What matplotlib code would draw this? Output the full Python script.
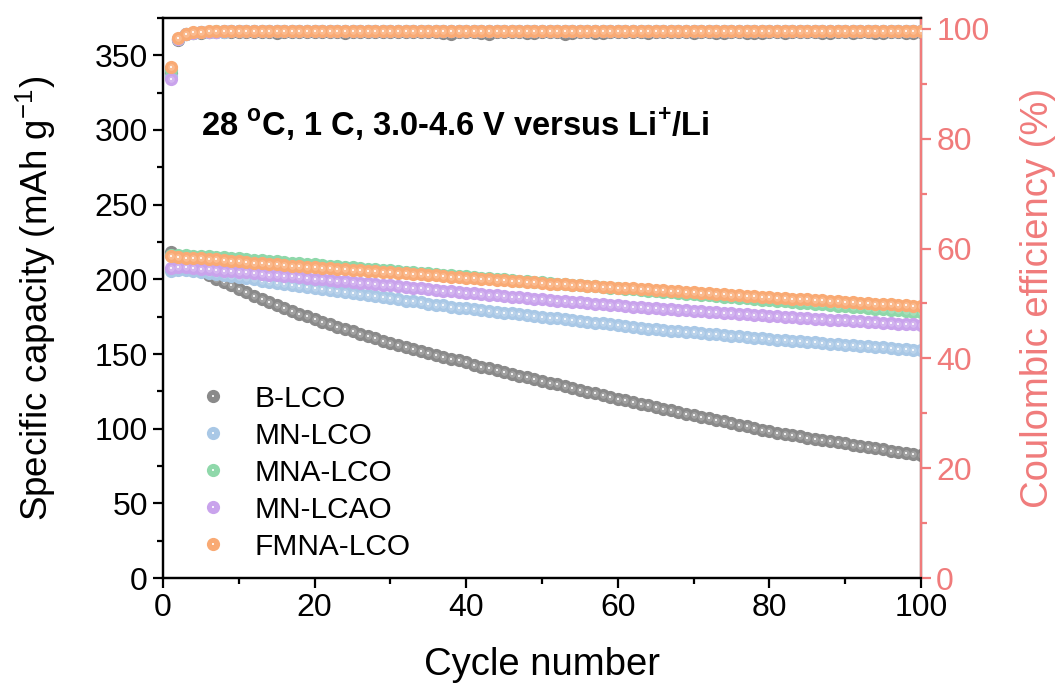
"""Cycling performance at 28 oC / 1 C: discharge capacity and Coulombic efficiency."""

import matplotlib
matplotlib.use("Agg")
import matplotlib.pyplot as plt
import numpy as np

plt.rcParams["font.family"] = ["Liberation Sans", "DejaVu Sans"]
plt.rcParams["mathtext.fontset"] = "custom"
plt.rcParams["mathtext.rm"] = "Liberation Sans"
plt.rcParams["mathtext.bf"] = "Liberation Sans:bold"

cycles = np.arange(1, 101)
samples = ["B-LCO", "MN-LCO", "MNA-LCO", "MN-LCAO", "FMNA-LCO"]
colors = ["#8a8a8a", "#a9c8e6", "#8fd8aa", "#c9a3ec", "#f9aa74"]

cap_b = [
    218.0, 214.0, 211.0, 208.0, 205.5, 203.0, 200.5, 198.0, 196.0, 193.5,
    191.2, 189.0, 186.9, 184.8, 182.8, 180.8, 178.9, 177.0, 175.2, 173.4,
    171.7, 170.0, 168.3, 166.7, 165.1, 163.5, 162.0, 160.5, 159.0, 157.6,
    156.2, 154.8, 153.4, 152.1, 150.8, 149.5, 148.2, 146.9, 145.7, 144.5,
    142.8, 141.6, 140.4, 139.2, 138.0, 136.8, 135.6, 134.4, 133.2, 132.0,
    130.8, 129.6, 128.4, 127.2, 126.0, 124.8, 123.6, 122.4, 121.2, 120.0,
    118.9, 117.8, 116.7, 115.6, 114.5, 113.4, 112.3, 111.2, 110.1, 109.0,
    108.0, 107.0, 106.0, 104.9, 103.8, 102.7, 101.6, 100.5, 99.4, 98.3,
    97.4, 96.5, 95.7, 94.9, 94.1, 93.3, 92.5, 91.7, 90.9, 90.1,
    89.3, 88.5, 87.7, 86.9, 86.1, 85.3, 84.5, 83.7, 82.9, 82.1,
]
cap_mn = [
    205.5, 206.5, 206.0, 205.4, 204.8, 204.1, 203.5, 202.8, 202.2, 201.5,
    200.7, 200.0, 199.2, 198.5, 197.7, 197.0, 196.2, 195.5, 194.7, 194.0,
    193.3, 192.6, 192.0, 191.3, 190.6, 189.9, 189.2, 188.5, 187.9, 187.2,
    186.5, 185.8, 185.2, 184.5, 183.8, 183.1, 182.5, 181.8, 181.1, 180.5,
    179.9, 179.4, 178.8, 178.3, 177.7, 177.2, 176.6, 176.1, 175.5, 175.0,
    174.4, 173.9, 173.3, 172.7, 172.2, 171.6, 171.0, 170.5, 169.9, 169.3,
    168.7, 168.2, 167.6, 167.0, 166.5, 166.1, 165.6, 165.2, 164.8, 164.4,
    163.9, 163.5, 163.1, 162.6, 162.2, 161.8, 161.4, 160.9, 160.5, 160.0,
    159.6, 159.3, 158.9, 158.5, 158.1, 157.8, 157.4, 157.0, 156.6, 156.3,
    155.9, 155.5, 155.1, 154.8, 154.4, 154.0, 153.6, 153.3, 152.9, 152.5,
]
cap_mna = [
    216.0, 216.5, 216.2, 215.9, 215.6, 215.3, 215.0, 214.7, 214.4, 214.0,
    213.6, 213.2, 212.8, 212.4, 212.0, 211.6, 211.2, 210.8, 210.4, 210.0,
    209.6, 209.2, 208.8, 208.4, 208.0, 207.6, 207.2, 206.8, 206.4, 206.0,
    205.5, 205.1, 204.7, 204.3, 203.9, 203.5, 203.2, 202.8, 202.4, 202.0,
    201.6, 201.2, 200.8, 200.4, 200.0, 199.6, 199.2, 198.8, 198.4, 198.0,
    197.6, 197.2, 196.8, 196.4, 196.0, 195.6, 195.2, 194.8, 194.4, 194.0,
    193.6, 193.2, 192.8, 192.4, 192.0, 191.6, 191.2, 190.8, 190.4, 190.0,
    189.6, 189.2, 188.8, 188.4, 188.0, 187.6, 187.2, 186.8, 186.4, 186.0,
    185.6, 185.2, 184.8, 184.4, 184.0, 183.6, 183.2, 182.8, 182.4, 182.0,
    181.6, 181.2, 180.8, 180.4, 180.0, 179.6, 179.2, 178.8, 178.3, 177.8,
]
cap_mnlcao = [
    207.5, 208.5, 208.1, 207.7, 207.2, 206.8, 206.4, 205.9, 205.5, 205.0,
    204.6, 204.1, 203.7, 203.2, 202.8, 202.3, 201.9, 201.4, 201.0, 200.5,
    200.0, 199.6, 199.1, 198.7, 198.2, 197.8, 197.3, 196.9, 196.4, 196.0,
    195.5, 195.0, 194.5, 194.0, 193.5, 193.0, 192.5, 192.0, 191.5, 191.0,
    190.6, 190.1, 189.7, 189.2, 188.8, 188.3, 187.9, 187.4, 187.0, 186.5,
    186.1, 185.7, 185.3, 184.9, 184.5, 184.1, 183.7, 183.3, 182.9, 182.5,
    182.1, 181.7, 181.3, 180.9, 180.5, 180.2, 179.8, 179.5, 179.2, 178.8,
    178.5, 178.2, 177.8, 177.5, 177.2, 176.8, 176.5, 176.2, 175.8, 175.5,
    175.2, 174.9, 174.6, 174.3, 174.0, 173.7, 173.4, 173.1, 172.8, 172.5,
    172.2, 171.9, 171.6, 171.3, 171.0, 170.7, 170.4, 170.1, 169.8, 169.5,
]
cap_fmna = [
    215.5, 215.0, 214.6, 214.3, 214.0, 213.6, 213.3, 212.9, 212.5, 212.0,
    211.6, 211.2, 210.8, 210.4, 210.0, 209.6, 209.2, 208.8, 208.4, 208.0,
    207.7, 207.4, 207.0, 206.7, 206.4, 206.1, 205.8, 205.4, 205.1, 204.8,
    204.5, 204.1, 203.7, 203.3, 203.0, 202.6, 202.2, 201.8, 201.4, 201.0,
    200.7, 200.3, 200.0, 199.6, 199.3, 198.9, 198.6, 198.2, 197.9, 197.5,
    197.2, 196.9, 196.6, 196.3, 196.0, 195.7, 195.4, 195.1, 194.8, 194.5,
    194.2, 193.9, 193.6, 193.3, 193.0, 192.7, 192.3, 192.0, 191.7, 191.3,
    191.0, 190.7, 190.3, 190.0, 189.7, 189.3, 189.0, 188.7, 188.3, 188.0,
    187.7, 187.4, 187.1, 186.8, 186.5, 186.2, 185.9, 185.6, 185.3, 185.0,
    184.7, 184.4, 184.1, 183.8, 183.5, 183.2, 182.9, 182.6, 182.3, 182.0,
]

ce_b = [
    92.0, 98.0, 99.0, 99.2, 99.3, 99.4, 99.4, 99.5, 99.4, 99.5,
    99.5, 99.4, 99.5, 99.5, 99.3, 99.5, 99.5, 99.4, 99.5, 99.5,
    99.4, 99.5, 99.5, 99.3, 99.5, 99.4, 99.5, 99.5, 99.4, 99.5,
    99.5, 99.4, 99.5, 99.5, 99.4, 99.5, 99.2, 99.1, 99.4, 99.5,
    99.5, 99.2, 99.1, 99.4, 99.5, 99.4, 99.5, 99.3, 99.2, 99.5,
    99.4, 99.5, 99.1, 99.2, 99.4, 99.5, 99.3, 99.2, 99.5, 99.4,
    99.5, 99.4, 99.5, 99.3, 99.5, 99.4, 99.5, 99.5, 99.4, 99.2,
    99.5, 99.4, 99.3, 99.3, 99.4, 99.5, 99.3, 99.2, 99.3, 99.4,
    99.5, 99.3, 99.4, 99.5, 99.4, 99.5, 99.3, 99.2, 99.4, 99.5,
    99.2, 99.5, 99.4, 99.3, 99.2, 99.5, 99.4, 99.2, 99.3, 99.5,
]
ce_mn = [
    91.5, 98.1, 99.0, 99.3, 99.4, 99.5, 99.5, 99.5, 99.6, 99.6,
    99.6, 99.6, 99.6, 99.6, 99.6, 99.6, 99.6, 99.6, 99.6, 99.6,
    99.6, 99.6, 99.6, 99.6, 99.6, 99.6, 99.6, 99.6, 99.6, 99.6,
    99.6, 99.6, 99.6, 99.6, 99.6, 99.6, 99.6, 99.6, 99.6, 99.6,
    99.6, 99.6, 99.6, 99.6, 99.6, 99.6, 99.6, 99.6, 99.6, 99.6,
    99.6, 99.6, 99.6, 99.6, 99.6, 99.6, 99.6, 99.6, 99.6, 99.6,
    99.6, 99.6, 99.6, 99.6, 99.6, 99.6, 99.6, 99.6, 99.6, 99.6,
    99.6, 99.6, 99.6, 99.6, 99.6, 99.6, 99.6, 99.6, 99.6, 99.6,
    99.6, 99.6, 99.6, 99.6, 99.6, 99.6, 99.6, 99.6, 99.6, 99.6,
    99.6, 99.6, 99.6, 99.6, 99.6, 99.6, 99.6, 99.6, 99.6, 99.6,
]
ce_mna = [
    92.5, 98.2, 99.1, 99.3, 99.5, 99.5, 99.6, 99.6, 99.6, 99.6,
    99.6, 99.6, 99.7, 99.6, 99.7, 99.6, 99.7, 99.6, 99.7, 99.7,
    99.7, 99.6, 99.7, 99.7, 99.7, 99.6, 99.7, 99.7, 99.7, 99.7,
    99.7, 99.7, 99.6, 99.7, 99.7, 99.7, 99.7, 99.7, 99.7, 99.7,
    99.7, 99.7, 99.7, 99.7, 99.6, 99.7, 99.7, 99.7, 99.7, 99.7,
    99.7, 99.7, 99.7, 99.7, 99.7, 99.7, 99.7, 99.7, 99.7, 99.7,
    99.7, 99.7, 99.7, 99.7, 99.7, 99.7, 99.7, 99.7, 99.7, 99.7,
    99.7, 99.7, 99.7, 99.7, 99.7, 99.7, 99.7, 99.7, 99.7, 99.7,
    99.7, 99.7, 99.7, 99.7, 99.7, 99.7, 99.7, 99.7, 99.7, 99.7,
    99.7, 99.7, 99.7, 99.7, 99.7, 99.7, 99.7, 99.7, 99.7, 99.7,
]
ce_mnlcao = [
    90.9, 98.1, 99.0, 99.3, 99.4, 99.5, 99.5, 99.6, 99.6, 99.6,
    99.6, 99.6, 99.6, 99.6, 99.6, 99.6, 99.6, 99.6, 99.6, 99.6,
    99.6, 99.6, 99.6, 99.6, 99.6, 99.6, 99.6, 99.6, 99.6, 99.6,
    99.6, 99.6, 99.6, 99.6, 99.6, 99.6, 99.6, 99.6, 99.6, 99.6,
    99.6, 99.6, 99.6, 99.6, 99.6, 99.6, 99.6, 99.6, 99.6, 99.6,
    99.6, 99.6, 99.6, 99.6, 99.6, 99.6, 99.6, 99.6, 99.6, 99.6,
    99.6, 99.6, 99.6, 99.6, 99.6, 99.6, 99.6, 99.6, 99.6, 99.6,
    99.6, 99.6, 99.6, 99.6, 99.6, 99.6, 99.6, 99.6, 99.6, 99.6,
    99.6, 99.6, 99.6, 99.6, 99.6, 99.6, 99.6, 99.6, 99.6, 99.6,
    99.6, 99.6, 99.6, 99.6, 99.6, 99.6, 99.6, 99.6, 99.6, 99.6,
]
ce_fmna = [
    93.0, 98.3, 99.1, 99.4, 99.5, 99.6, 99.6, 99.7, 99.7, 99.7,
    99.7, 99.7, 99.7, 99.7, 99.7, 99.7, 99.7, 99.7, 99.7, 99.7,
    99.7, 99.7, 99.7, 99.7, 99.7, 99.7, 99.7, 99.7, 99.7, 99.7,
    99.7, 99.7, 99.7, 99.7, 99.7, 99.7, 99.7, 99.7, 99.7, 99.7,
    99.7, 99.7, 99.7, 99.7, 99.7, 99.7, 99.7, 99.7, 99.7, 99.7,
    99.7, 99.7, 99.7, 99.7, 99.7, 99.7, 99.7, 99.7, 99.7, 99.7,
    99.7, 99.7, 99.7, 99.7, 99.7, 99.7, 99.7, 99.7, 99.7, 99.7,
    99.7, 99.7, 99.7, 99.7, 99.7, 99.7, 99.7, 99.7, 99.7, 99.7,
    99.7, 99.7, 99.7, 99.7, 99.7, 99.7, 99.7, 99.7, 99.7, 99.7,
    99.7, 99.7, 99.7, 99.7, 99.7, 99.7, 99.7, 99.7, 99.7, 99.7,
]

capacities = [cap_b, cap_mn, cap_mna, cap_mnlcao, cap_fmna]
efficiencies = [ce_b, ce_mn, ce_mna, ce_mnlcao, ce_fmna]

CE_COLOR = "#f07b7b"
MS = 9.5


def sphere(ax, x, y, color, zorder):
    """Ball-like markers: solid body plus a small white highlight."""
    body, = ax.plot(x, y, "o", ms=MS, color=color, mec=color, mew=0, zorder=zorder)
    ax.plot(x, y, "o", ms=MS * 0.5, color="white", mew=0, alpha=0.2, zorder=zorder + 0.1)
    glint, = ax.plot(x, y, "s", ms=MS * 0.22, color="white", mew=0, alpha=0.85,
                     zorder=zorder + 0.2)
    return body, glint


fig = plt.figure(figsize=(10.6, 6.89), dpi=100)
ax = fig.add_axes([0.1538, 0.161, 0.715, 0.813])
ax2 = ax.twinx()

handles = []
for i, (name, col, cap, ce) in enumerate(zip(samples, colors, capacities, efficiencies)):
    h = sphere(ax, cycles, cap, col, 2 + i)
    sphere(ax2, cycles, ce, col, 2 + i)
    handles.append(h)

ax.set_xlim(0, 100)
ax.set_ylim(0, 375)
ax2.set_ylim(0, 102)
ax.set_xticks(np.arange(0, 101, 20))
ax.set_xticks(np.arange(10, 100, 20), minor=True)
ax.set_yticks(np.arange(0, 351, 50))
ax.set_yticks(np.arange(25, 376, 50), minor=True)
ax2.set_yticks(np.arange(0, 101, 20))
ax2.set_yticks(np.arange(10, 100, 20), minor=True)

for a in (ax, ax2):
    for s in a.spines.values():
        s.set_linewidth(1.6)
ax2.spines["right"].set_color(CE_COLOR)
ax.tick_params(axis="both", which="major", direction="out", length=7, width=1.6,
               labelsize=23, pad=4)
ax.tick_params(axis="both", which="minor", direction="out", length=4, width=1.6)
ax2.tick_params(axis="y", which="major", direction="out", length=7, width=1.6,
                labelsize=23, colors=CE_COLOR, pad=4)
ax2.tick_params(axis="y", which="minor", direction="out", length=4, width=1.6,
                colors=CE_COLOR)

ax.set_xlabel("Cycle number", fontsize=27.5, labelpad=17)
ax.set_ylabel(r"Specific capacity (mAh g$^{-1}$)", fontsize=26.5, labelpad=26)
ax2.set_ylabel("Coulombic efficiency (%)", fontsize=27.5, color=CE_COLOR, labelpad=22)

ax.text(0.05, 0.809, r"28 $^{\mathbf{o}}$C, 1 C, 3.0-4.6 V versus Li$^{\mathbf{+}}$/Li",
        transform=ax.transAxes, fontsize=23.5, fontweight="bold", va="center")

ax.legend([tuple(h) for h in handles], samples, loc="lower left",
          bbox_to_anchor=(0.03, 0.01), frameon=False, fontsize=21.5,
          handlelength=1.0, handletextpad=0.9, labelspacing=0.3, borderaxespad=0)

fig.savefig("out.png", dpi=100)
